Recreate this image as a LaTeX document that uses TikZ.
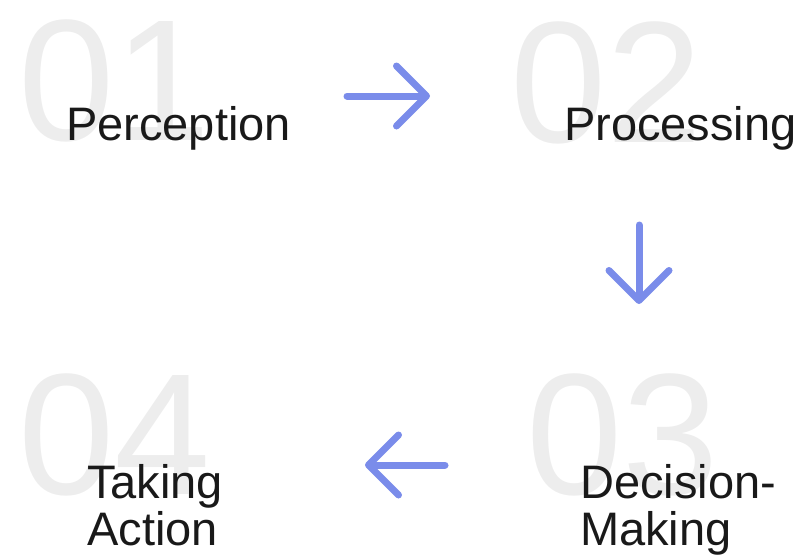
\documentclass[tikz,border=0pt]{standalone}
\usepackage{fontspec}
\setmainfont{Liberation Sans}
\usetikzlibrary{arrows.meta}
\definecolor{numgray}{RGB}{237,237,237}
\definecolor{arrowblue}{RGB}{122,140,234}
\tikzset{
  bignum/.style={anchor=base west, inner sep=0pt, text=numgray,
    font=\fontsize{173}{173}\selectfont},
  steplabel/.style={anchor=base west, inner sep=0pt, align=left,
    text=black!90, font=\fontsize{47}{47}\selectfont},
  flow/.style={draw=arrowblue, line width=7pt, line cap=round,
    -{Straight Barb[length=30pt,width=60pt,round]}}
}
\begin{document}
\begin{tikzpicture}[x=1pt,y=-1pt]
\useasboundingbox (0,0) rectangle (800,557);
% big step numbers in the back
\node[bignum] (num1) at (18,140) {01};
\node[bignum] (num2) at (510,142) {02};
\node[bignum] (num3) at (526,494) {03};
\node[bignum] (num4) at (18,494) {04};
% step names (base is the last line)
\node[steplabel] (perception) at (66,140) {Perception};
\node[steplabel] (processing) at (564,140) {Processing};
\node[steplabel] (decision) at (580,545) {Decision-\\Making};
\node[steplabel] (action) at (87,545) {Taking\\Action};
% arrows between the steps
\coordinate (a1s) at (347,96);
\coordinate (a1e) at (430,96);
\coordinate (a2s) at (639,225);
\coordinate (a2e) at (639,304);
\coordinate (a3s) at (445,465);
\coordinate (a3e) at (365,465);
\draw[flow] (a1s) -- (a1e);
\draw[flow] (a2s) -- (a2e);
\draw[flow] (a3s) -- (a3e);
\end{tikzpicture}
\end{document}
